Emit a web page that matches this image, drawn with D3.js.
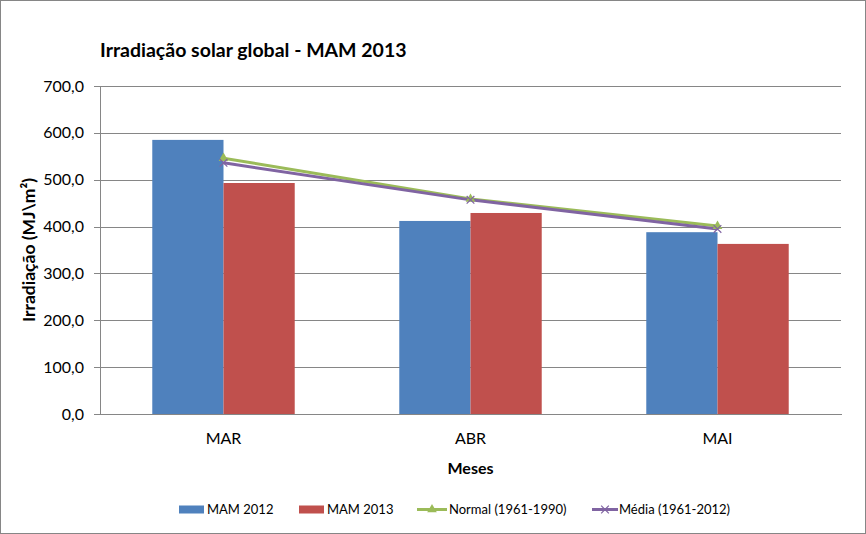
<!DOCTYPE html>
<html><head><meta charset="utf-8">
<script src="https://cdn.jsdelivr.net/npm/d3@7"></script>
<style>body{margin:0;background:#fff}svg{display:block;font-family:Lato,"Open Sans",sans-serif}</style>
</head><body><svg id="c" width="866" height="534"></svg>
<script>
const categories = ["MAR", "ABR", "MAI"];
const mam2012 = [585, 412, 388];
const mam2013 = [493, 429, 363];
const normal = [546, 459, 401];
const media = [536, 457, 395];
const yTicks = [0, 100, 200, 300, 400, 500, 600, 700];

const svg = d3.select("#c");
svg.append("rect").attr("x",0.5).attr("y",0.5).attr("width",865).attr("height",533)
  .attr("fill","#fff").attr("stroke","#868686");

const L = 100, R = 841, T = 86, B = 414;
const x = d3.scaleBand().domain(categories).range([L, R]).paddingInner(0).paddingOuter(0);
const xs = d3.scaleBand().domain(["a","b"]).range([0, x.bandwidth()]).paddingOuter(0.734).paddingInner(0);
const y = d3.scaleLinear().domain([0, 700]).range([B, T]);
const fmt = d => d.toFixed(1).replace(".", ",");

// gridlines
svg.append("g").selectAll("line").data(yTicks.slice(1)).join("line")
  .attr("x1", L).attr("x2", R).attr("y1", d => Math.round(y(d))+0.5).attr("y2", d => Math.round(y(d))+0.5)
  .attr("stroke", "#868686").attr("stroke-width", 1);

// y axis
const ya = svg.append("g").attr("transform", `translate(${L},0)`)
  .call(d3.axisLeft(y).tickValues(yTicks).tickFormat(fmt).tickSize(6).tickPadding(10));
ya.select(".domain").attr("stroke","#868686").attr("shape-rendering","crispEdges");
ya.selectAll(".tick line").attr("stroke","#868686").attr("shape-rendering","crispEdges");
ya.selectAll("text").attr("font-size", 16).attr("fill","#000").attr("font-family","Lato");

// x axis
const xa = svg.append("g").attr("transform", `translate(0,${B})`)
  .call(d3.axisBottom(x).tickSize(0).tickPadding(19));
xa.select(".domain").attr("stroke","#868686").attr("shape-rendering","crispEdges");
xa.selectAll("text").attr("font-size", 16).attr("fill","#000").attr("font-family","Lato");

// bars
const series = [{k:"a", v:mam2012, c:"#4F81BD"}, {k:"b", v:mam2013, c:"#C0504D"}];
series.forEach(s => {
  svg.append("g").selectAll("rect").data(categories).join("rect")
    .attr("x", (d) => x(d) + xs(s.k)).attr("width", xs.bandwidth())
    .attr("y", (d,i) => y(s.v[i])).attr("height", (d,i) => B - y(s.v[i]))
    .attr("fill", s.c);
});

// lines
const cx = d => x(d) + x.bandwidth()/2;
const line = vals => d3.line().x((d,i) => cx(categories[i])).y(d => y(d))(vals);
svg.append("path").attr("d", line(normal)).attr("fill","none").attr("stroke","#9BBB59").attr("stroke-width",3);
svg.append("path").attr("d", line(media)).attr("fill","none").attr("stroke","#8064A2").attr("stroke-width",3);
const tri = d3.symbol().type(d3.symbolTriangle).size(40);
svg.append("g").selectAll("path").data(normal).join("path")
  .attr("d", tri).attr("transform", (d,i) => `translate(${cx(categories[i])},${y(d)})`).attr("fill","#9BBB59");
const cross = d3.symbol().type(d3.symbolX).size(40);
svg.append("g").selectAll("path").data(media).join("path")
  .attr("d", cross).attr("transform", (d,i) => `translate(${cx(categories[i])},${y(d)})`)
  .attr("fill","none").attr("stroke","#8064A2").attr("stroke-width",1.2);

// titles
svg.append("text").attr("x", 100).attr("y", 56.5).text("Irradiação solar global - MAM 2013")
  .attr("font-size", 19.5).attr("font-weight","bold").attr("fill","#000");
svg.append("text").attr("x", (L+R)/2).attr("y", 474).attr("text-anchor","middle").text("Meses")
  .attr("font-size", 16).attr("font-weight","bold");
svg.append("text").attr("transform", `translate(35,250) rotate(-90)`).attr("text-anchor","middle")
  .text("Irradiação (MJ\\m²)").attr("font-size", 17.5).attr("font-weight","bold");

// legend
const lg = svg.append("g").attr("font-size", 13);
const ly = 509.5, tb = 513.5;
[[179, 325-299, "#4F81BD", "MAM 2012", 207], [299, 26, "#C0504D", "MAM 2013", 327]].forEach(([lx, w, c, t, tx]) => {
  lg.append("rect").attr("x", lx).attr("y", ly-4).attr("width", 25).attr("height", 8).attr("fill", c);
  lg.append("text").attr("x", tx).attr("y", tb).text(t);
});
lg.append("line").attr("x1",417).attr("x2",447).attr("y1",ly).attr("y2",ly).attr("stroke","#9BBB59").attr("stroke-width",3);
lg.append("path").attr("d", tri).attr("transform",`translate(432,${ly})`).attr("fill","#9BBB59");
lg.append("text").attr("x",449).attr("y",tb).text("Normal (1961-1990)");
lg.append("line").attr("x1",592).attr("x2",618).attr("y1",ly).attr("y2",ly).attr("stroke","#8064A2").attr("stroke-width",3);
lg.append("path").attr("d", cross).attr("transform",`translate(605,${ly})`).attr("fill","none").attr("stroke","#8064A2").attr("stroke-width",1.2);
lg.append("text").attr("x",619).attr("y",tb).text("Média (1961-2012)");
</script></body></html>
